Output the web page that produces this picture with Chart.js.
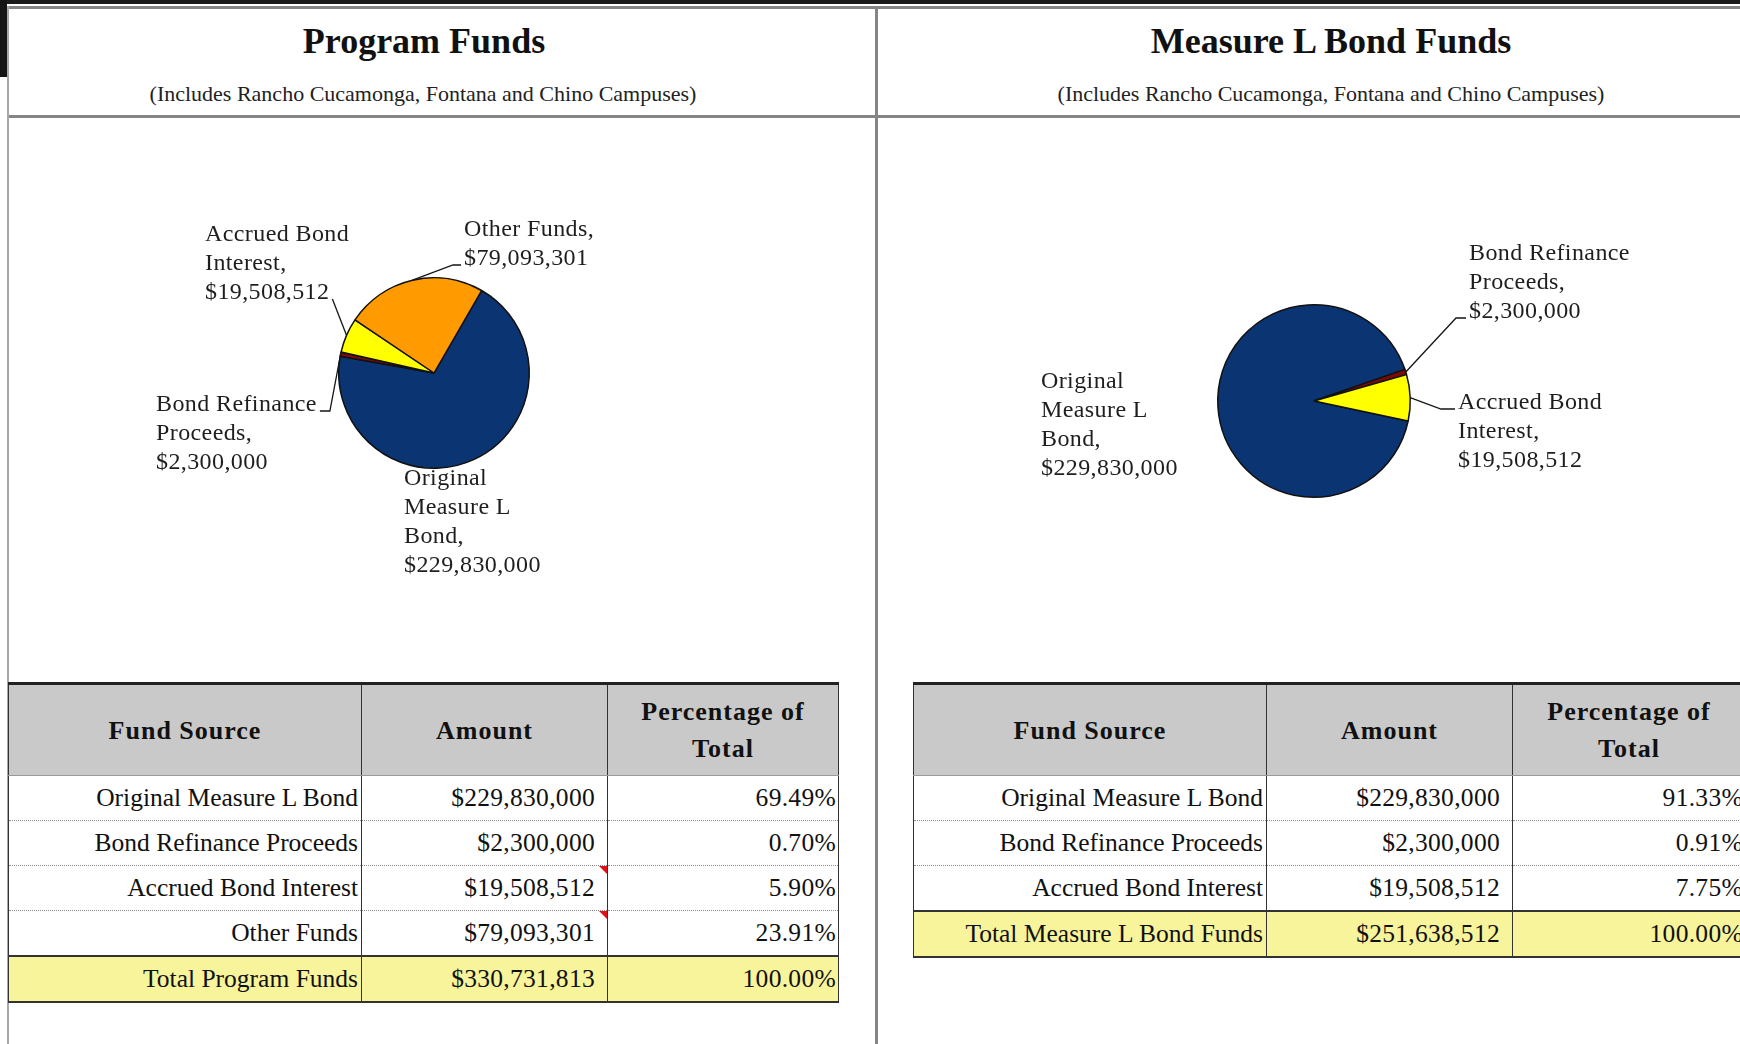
<!DOCTYPE html>
<html>
<head>
<meta charset="utf-8">
<title>Program Funds / Measure L Bond Funds</title>
<script src="https://cdn.jsdelivr.net/npm/chart.js@4.4.1/dist/chart.umd.min.js"></script>
<style>
  html, body { margin: 0; padding: 0; background: #fff; }
  body { width: 1740px; height: 1044px; position: relative; overflow: hidden;
         font-family: "Liberation Serif", "Times New Roman", serif; color: #111; }
  .band { position: absolute; left: 0; top: 0; width: 1740px; height: 4px; background: #1b1b1b; }
  .corner { position: absolute; left: 0; top: 0; width: 7px; height: 77px; background: #151515; }
  .rule-h { position: absolute; left: 7px; width: 1733px; height: 3px; background: #858585; }
  .rule-v { position: absolute; top: 6px; height: 1038px; background: #858585; }
  .title { position: absolute; width: 800px; top: 21px; text-align: center;
           font-weight: bold; font-size: 36px; line-height: 40px; }
  .subtitle { position: absolute; width: 800px; top: 81px; text-align: center;
              font-size: 22px; line-height: 26px; color: #222; }
  canvas { position: absolute; }

  table.funds { position: absolute; top: 682px; border-collapse: collapse; table-layout: fixed;
                font-size: 25.5px; color: #111; }
  .funds th { background: #c9c9c9; font-weight: bold; font-size: 26px; letter-spacing: 1px;
              line-height: 37px; height: 90px; padding: 0; text-align: center;
              border-top: 3px solid #222; border-left: 1px solid #333; border-right: 1px solid #333;
              border-bottom: 1px solid #9a9a9a; }
  .funds td { height: 44px; padding: 0; text-align: right; white-space: nowrap; overflow: hidden;
              border-left: 1px solid #333; border-right: 1px solid #333;
              border-bottom: 1px dotted #8a8a8a; }
  .funds td.name { padding-right: 3px; }
  .funds td.amt { padding-right: 12px; letter-spacing: 0.3px; position: relative; overflow: visible; }
  .funds td.pct { padding-right: 2px; letter-spacing: 0.3px; }
  .funds tr.total td { background: #f7f49c; border-top: 2px solid #333; border-bottom: 2px solid #333; }
  .funds td.flag::after { content: ""; position: absolute; top: 0; right: 0; width: 0; height: 0;
                          border-top: 8px solid #e3101a; border-left: 8px solid transparent; }
</style>
</head>
<body>
<div class="band"></div>
<div class="corner"></div>
<div class="rule-h" style="top:6px"></div>
<div class="rule-h" style="top:115px"></div>
<div class="rule-v" style="left:7px; width:2px; background:#a8a8a8"></div>
<div class="rule-v" style="left:875px; width:3px"></div>

<div class="title" style="left:24px">Program Funds</div>
<div class="subtitle" style="left:23px">(Includes Rancho Cucamonga, Fontana and Chino Campuses)</div>
<div class="title" style="left:931px">Measure L Bond Funds</div>
<div class="subtitle" style="left:931px">(Includes Rancho Cucamonga, Fontana and Chino Campuses)</div>

<canvas id="program-pie" width="866" height="560" style="left:9px; top:118px"></canvas>
<canvas id="bond-pie" width="861" height="560" style="left:879px; top:118px"></canvas>

<table class="funds" id="program-table" style="left:8px; width:831px"></table>
<table class="funds" id="bond-table" style="left:913px; width:833px"></table>

<script>
// fund sources, in the order the slices are drawn
const programSources = ['Original Measure L Bond', 'Bond Refinance Proceeds', 'Accrued Bond Interest', 'Other Funds'];
const programAmounts = [229830000, 2300000, 19508512, 79093301];
const programTotalLabel = 'Total Program Funds';

const bondSources = ['Original Measure L Bond', 'Bond Refinance Proceeds', 'Accrued Bond Interest'];
const bondAmounts = [229830000, 2300000, 19508512];
const bondTotalLabel = 'Total Measure L Bond Funds';

// rows of the program table whose amount cell has a comment marker
const programCommentRows = [2, 3];

const sliceColors = ['#0b3472', '#7a0b0b', '#ffff00', '#ff9a00'];

function money(v) {
  return '$' + v.toLocaleString('en-US');
}

function wrapLabel(ctx, text, maxWidth) {
  const words = text.split(' ');
  let lines = [];
  let current = '';
  words.forEach(word => {
    const test = current ? current + ' ' + word : word;
    if (current && ctx.measureText(test).width > maxWidth) {
      lines.push(current);
      current = word;
    } else {
      current = test;
    }
  });
  lines.push(current);
  return lines;
}

// Excel-style data labels: "Name, $value" with leader lines to the slice edge
const calloutPlugin = {
  id: 'callouts',
  afterDraw(chart, args, opts) {
    const ctx = chart.ctx;
    const arcs = chart.getDatasetMeta(0).data;
    const names = chart.data.labels;
    const values = chart.data.datasets[0].data;
    ctx.save();
    ctx.font = opts.font;
    ctx.letterSpacing = '0.4px';
    ctx.fillStyle = '#1e1e1e';
    ctx.strokeStyle = '#151515';
    ctx.lineWidth = 1.3;
    ctx.textBaseline = 'middle';
    ctx.textAlign = 'left';
    arcs.forEach((arc, i) => {
      const place = opts.places[i];
      const p = arc.getProps(['x', 'y', 'startAngle', 'endAngle', 'outerRadius'], true);
      const lines = wrapLabel(ctx, names[i] + ',', opts.wrap);
      lines.push(money(values[i]));
      const left = p.x + place.dx;
      const top = p.y + place.dy;
      lines.forEach((line, k) => ctx.fillText(line, left, top + k * opts.lineHeight));

      if (place.leader) {
        const ld = place.leader;
        const ly = top + ld.line * opts.lineHeight + 6;
        let sx, tx;
        if (ld.side === 'right') {
          sx = left + ctx.measureText(lines[ld.line]).width + 3;
          tx = sx + ld.tick;
        } else {
          sx = left - 3;
          tx = sx - ld.tick;
        }
        const mid = (p.startAngle + p.endAngle) / 2;
        const ex = p.x + Math.cos(mid) * p.outerRadius;
        const ey = p.y + Math.sin(mid) * p.outerRadius;
        ctx.beginPath();
        ctx.moveTo(sx, ly);
        ctx.lineTo(tx, ly);
        ctx.lineTo(ex, ey);
        ctx.stroke();
      }
    });
    ctx.restore();
  }
};

function makePie(canvasId, sources, amounts, view) {
  const canvas = document.getElementById(canvasId);
  return new Chart(canvas, {
    type: 'pie',
    data: {
      labels: sources,
      datasets: [{
        data: amounts,
        backgroundColor: sliceColors.slice(0, amounts.length),
        borderColor: '#111',
        borderWidth: 1.5,
      }],
    },
    options: {
      responsive: false,
      animation: false,
      devicePixelRatio: 1,
      rotation: view.rotation,
      layout: {
        padding: {
          left: view.cx - view.r,
          right: canvas.width - view.cx - view.r,
          top: view.cy - view.r,
          bottom: canvas.height - view.cy - view.r,
        }
      },
      plugins: {
        legend: { display: false },
        tooltip: { enabled: false },
        callouts: {
          font: '24px "Liberation Serif", serif',
          lineHeight: 29,
          wrap: 166,
          places: view.places,
        }
      }
    },
    plugins: [calloutPlugin],
  });
}

makePie('program-pie', programSources, programAmounts, {
  cx: 425, cy: 255, r: 96, rotation: 30,
  places: [
    { dx: -30, dy: 106 },
    { dx: -278, dy: 32, leader: { side: 'right', line: 0, tick: 10 } },
    { dx: -229, dy: -138, leader: { side: 'right', line: 2, tick: 0 } },
    { dx: 30, dy: -143, leader: { side: 'left', line: 1, tick: 8 } },
  ]
});

makePie('bond-pie', bondSources, bondAmounts, {
  cx: 435, cy: 283, r: 97, rotation: 102,
  places: [
    { dx: -273, dy: -19 },
    { dx: 155, dy: -147, leader: { side: 'left', line: 2, tick: 10 } },
    { dx: 144, dy: 2, leader: { side: 'left', line: 0, tick: 14 } },
  ]
});

function buildTable(tableId, sources, amounts, totalLabel, commentRows) {
  const table = document.getElementById(tableId);
  const total = amounts.reduce((a, b) => a + b, 0);
  let html = '<colgroup><col style="width:353px"><col style="width:246px"><col></colgroup>';
  html += '<tr><th>Fund Source</th><th>Amount</th><th>Percentage of<br>Total</th></tr>';
  sources.forEach((name, i) => {
    const flag = commentRows.includes(i) ? ' flag' : '';
    const pct = (amounts[i] / total * 100).toFixed(2) + '%';
    html += `<tr><td class="name">${name}</td><td class="amt${flag}">${money(amounts[i])}</td><td class="pct">${pct}</td></tr>`;
  });
  html += `<tr class="total"><td class="name">${totalLabel}</td><td class="amt">${money(total)}</td><td class="pct">100.00%</td></tr>`;
  table.innerHTML = html;
}

buildTable('program-table', programSources, programAmounts, programTotalLabel, programCommentRows);
buildTable('bond-table', bondSources, bondAmounts, bondTotalLabel, []);
</script>
</body>
</html>
